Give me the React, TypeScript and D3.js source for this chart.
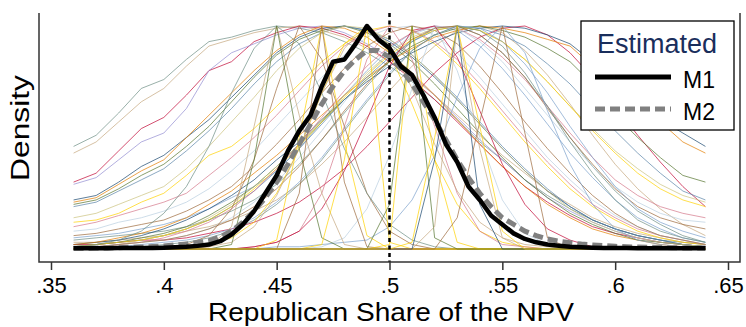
import { useEffect, useRef } from 'react'
import * as d3 from 'd3'

const W = 746
const H = 327

// vote-share grid of the state curves
const shareGrid = [
  0.36, 0.37, 0.38, 0.39, 0.40, 0.41, 0.42, 0.43, 0.44, 0.45,
  0.46, 0.47, 0.48, 0.49, 0.50, 0.51, 0.52, 0.53, 0.54, 0.55,
  0.56, 0.57, 0.58, 0.59, 0.60, 0.61, 0.62, 0.63, 0.64,
]

// finer grid of the estimated densities
const fineShare = [
  0.360, 0.365, 0.370, 0.375, 0.380, 0.385, 0.390, 0.395, 0.400, 0.405,
  0.410, 0.415, 0.420, 0.425, 0.430, 0.435, 0.440, 0.445, 0.450, 0.455,
  0.460, 0.465, 0.470, 0.475, 0.480, 0.485, 0.490, 0.495, 0.500, 0.505,
  0.510, 0.515, 0.520, 0.525, 0.530, 0.535, 0.540, 0.545, 0.550, 0.555,
  0.560, 0.565, 0.570, 0.575, 0.580, 0.585, 0.590, 0.595, 0.600, 0.605,
  0.610, 0.615, 0.620, 0.625, 0.630, 0.635, 0.640,
]

const m1Density = [
  0.3, 0.3, 0.3, 0.3, 0.4, 0.4, 0.5, 0.5, 0.6, 0.8,
  1.0, 1.4, 2.0, 3.5, 6.5, 11, 17, 25, 33, 44,
  53, 60, 73, 84, 85, 92, 100, 94, 90, 82,
  78, 69, 59, 47, 39, 28, 22, 15, 11, 7,
  4.5, 3, 2, 1.5, 1, 0.8, 0.6, 0.5, 0.4, 0.4,
  0.3, 0.3, 0.3, 0.3, 0.3, 0.3, 0.3,
]

const m2Density = [
  0.3, 0.35, 0.4, 0.5, 0.6, 0.75, 0.9, 1.1, 1.4, 1.8,
  2.3, 2.9, 3.7, 5.5, 8, 12, 17, 23, 30, 38,
  47, 56, 65, 73, 80, 85, 89, 89, 86, 81,
  74, 66, 58, 49, 40, 32, 25, 19, 14, 11,
  8, 6, 4.5, 3.5, 2.8, 2.2, 1.8, 1.5, 1.2, 1.0,
  0.9, 0.8, 0.7, 0.6, 0.5, 0.45, 0.4,
]

// state curves, scaled to their own peak (= 100)
const leftFanCurves = [
  [46, 51, 61, 72, 76, 85, 93, 95, 98, 100, 99, 97, 93, 88, 82, 75, 67, 58, 48, 40, 31, 24, 18, 13, 9, 6, 4, 3, 2],
  [43, 48, 57, 66, 72, 82, 91, 94, 97, 99, 100, 98, 95, 90, 84, 77, 69, 60, 51, 42, 34, 26, 20, 14, 10, 7, 5, 3, 2],
  [30, 34, 44, 54, 59, 69, 80, 84, 93, 97, 100, 99, 96, 91, 84, 76, 67, 57, 47, 37, 28, 21, 15, 10, 7, 5, 3, 2, 1],
  [29, 32, 40, 48, 52, 63, 80, 88, 92, 96, 99, 100, 97, 92, 86, 78, 69, 59, 49, 40, 31, 23, 17, 12, 8, 5, 3, 2, 1],
  [22, 24, 30, 37, 42, 50, 58, 68, 78, 88, 95, 99, 100, 98, 93, 86, 77, 67, 56, 45, 35, 26, 19, 13, 9, 6, 4, 2, 1],
  [21, 23, 29, 35, 40, 50, 60, 70, 80, 89, 96, 100, 99, 95, 88, 79, 69, 58, 47, 37, 28, 20, 14, 9, 6, 4, 2, 1, 1],
  [20, 22, 27, 33, 38, 46, 55, 66, 77, 87, 94, 98, 100, 97, 92, 84, 74, 63, 52, 41, 31, 23, 16, 11, 7, 4, 3, 2, 1],
  [19, 21, 26, 31, 36, 44, 53, 63, 74, 84, 92, 97, 100, 98, 94, 87, 78, 68, 57, 46, 36, 27, 19, 13, 9, 6, 4, 2, 1],
  [14, 16, 20, 24, 28, 36, 46, 57, 68, 80, 90, 97, 100, 99, 94, 87, 78, 67, 56, 45, 35, 26, 18, 12, 8, 5, 3, 2, 1],
  [12, 13, 16, 21, 25, 33, 42, 46, 54, 64, 74, 84, 92, 98, 100, 98, 92, 83, 72, 60, 48, 37, 27, 19, 13, 8, 5, 3, 2],
  [10, 12, 15, 18, 21, 25, 33, 41, 50, 60, 71, 82, 91, 97, 100, 98, 93, 85, 74, 62, 50, 39, 29, 20, 14, 9, 6, 4, 2],
  [8, 9, 12, 14, 17, 21, 27, 35, 44, 55, 66, 77, 87, 95, 99, 100, 96, 88, 77, 65, 53, 41, 31, 22, 15, 10, 6, 4, 2],
  [6, 7, 9, 11, 13, 17, 22, 28, 37, 47, 58, 70, 81, 91, 97, 100, 98, 92, 82, 70, 57, 45, 34, 24, 16, 10, 6, 4, 2],
  [5, 6, 7, 9, 11, 14, 18, 23, 28, 35, 45, 57, 69, 80, 90, 97, 100, 98, 91, 81, 69, 56, 43, 32, 22, 14, 9, 5, 3],
  [4, 5, 6, 7, 8, 10, 13, 17, 22, 29, 38, 49, 61, 73, 84, 93, 99, 100, 96, 88, 77, 64, 50, 37, 26, 17, 11, 6, 3],
  [3, 3, 4, 5, 6, 8, 10, 13, 17, 22, 29, 38, 48, 59, 71, 82, 91, 98, 100, 97, 89, 78, 65, 51, 38, 27, 18, 11, 6],
  [2, 2, 3, 4, 4, 5, 7, 9, 12, 16, 21, 28, 36, 46, 57, 68, 79, 88, 95, 99, 100, 96, 88, 77, 64, 51, 39, 28, 19],
]

const rightFanCurves = [
  [2, 3, 4, 6, 9, 13, 18, 24, 31, 40, 48, 58, 67, 75, 82, 88, 93, 97, 99, 100, 99, 96, 92, 84, 76, 68, 58, 52, 46],
  [2, 3, 5, 7, 10, 14, 20, 26, 34, 42, 51, 60, 69, 77, 84, 90, 95, 98, 100, 99, 97, 94, 91, 82, 72, 66, 57, 48, 43],
  [1, 2, 3, 5, 7, 10, 15, 21, 28, 37, 47, 57, 67, 76, 84, 91, 96, 99, 100, 98, 95, 90, 84, 74, 60, 50, 41, 33, 30],
  [1, 2, 3, 4, 6, 9, 13, 19, 26, 35, 45, 56, 67, 77, 86, 93, 98, 100, 99, 96, 91, 83, 74, 63, 53, 43, 34, 26, 22],
  [1, 1, 2, 4, 6, 9, 14, 20, 28, 37, 47, 58, 69, 79, 88, 95, 99, 100, 98, 93, 85, 75, 64, 54, 44, 36, 29, 24, 21],
  [1, 2, 3, 4, 6, 9, 13, 19, 27, 36, 46, 57, 68, 78, 87, 94, 98, 100, 98, 93, 85, 75, 64, 53, 43, 34, 27, 22, 19],
  [1, 1, 2, 3, 5, 8, 12, 18, 26, 36, 47, 59, 71, 82, 91, 97, 100, 99, 94, 86, 76, 64, 52, 41, 31, 24, 19, 16, 14],
  [1, 1, 2, 3, 4, 6, 9, 14, 21, 30, 41, 53, 66, 78, 88, 96, 100, 99, 93, 84, 72, 60, 48, 37, 28, 21, 16, 13, 12],
  [1, 1, 2, 3, 4, 6, 9, 13, 19, 27, 37, 49, 62, 74, 85, 94, 99, 100, 96, 88, 77, 63, 50, 38, 27, 19, 14, 11, 9],
  [0, 1, 1, 2, 3, 4, 6, 9, 14, 21, 30, 41, 54, 67, 79, 89, 96, 100, 99, 93, 83, 70, 55, 41, 28, 18, 12, 8, 5],
  [0, 0, 1, 1, 2, 3, 5, 8, 13, 20, 29, 40, 53, 66, 78, 89, 96, 100, 98, 91, 79, 64, 48, 34, 22, 13, 8, 5, 3],
]

const midCurves = [
  [0, 0, 0, 0, 0, 1, 2, 5, 12, 25, 45, 70, 92, 100, 88, 65, 40, 20, 8, 3, 1, 0, 0, 0, 0, 0, 0, 0, 0],
  [0, 0, 0, 0, 0, 0, 0, 0, 1, 3, 8, 25, 55, 85, 100, 85, 55, 25, 8, 2, 1, 0, 0, 0, 0, 0, 0, 0, 0],
  [0, 0, 0, 0, 0, 0, 0, 0, 0, 0, 0, 1, 5, 18, 42, 72, 100, 80, 50, 22, 7, 2, 0, 0, 0, 0, 0, 0, 0],
  [0, 0, 0, 0, 0, 2, 6, 18, 40, 72, 100, 85, 55, 25, 8, 2, 0, 0, 0, 0, 0, 0, 0, 0, 0, 0, 0, 0, 0],
  [0, 0, 0, 0, 0, 0, 0, 0, 0, 1, 1, 2, 3, 4, 10, 22, 42, 68, 90, 100, 88, 62, 38, 20, 9, 4, 2, 1, 0],
  [1, 2, 4, 8, 16, 28, 46, 70, 90, 100, 92, 70, 45, 25, 11, 4, 1, 0, 0, 0, 0, 0, 0, 0, 0, 0, 0, 0, 0],
  [0, 0, 0, 0, 0, 0, 1, 3, 10, 24, 45, 70, 90, 100, 92, 72, 47, 26, 12, 5, 2, 1, 0, 0, 0, 0, 0, 0, 0],
  [0, 0, 0, 0, 0, 0, 0, 0, 1, 3, 8, 18, 35, 58, 82, 98, 100, 86, 62, 38, 20, 9, 4, 1, 0, 0, 0, 0, 0],
]

const spikeCurves = [
  [0, 0, 0, 0, 0, 0, 1, 10, 55, 100, 60, 25, 2, 0, 0, 0, 0, 0, 0, 0, 0, 0, 0, 0, 0, 0, 0, 0, 0],
  [0, 0, 0, 0, 0, 0, 0, 2, 40, 100, 45, 5, 0, 0, 0, 0, 0, 0, 0, 0, 0, 0, 0, 0, 0, 0, 0, 0, 0],
  [0, 0, 0, 0, 0, 0, 0, 0, 0, 4, 50, 100, 48, 6, 0, 0, 0, 0, 0, 0, 0, 0, 0, 0, 0, 0, 0, 0, 0],
  [0, 0, 0, 0, 0, 0, 0, 0, 0, 0, 25, 100, 30, 1, 0, 0, 0, 0, 0, 0, 0, 0, 0, 0, 0, 0, 0, 0, 0],
  [0, 0, 0, 0, 0, 0, 0, 0, 0, 0, 0, 2, 40, 100, 3, 0, 0, 0, 0, 0, 0, 0, 0, 0, 0, 0, 0, 0, 0],
  [0, 0, 0, 0, 0, 0, 0, 0, 0, 0, 0, 0, 0, 0, 2, 100, 40, 3, 0, 0, 0, 0, 0, 0, 0, 0, 0, 0, 0],
  [0, 0, 0, 0, 0, 0, 0, 0, 0, 0, 0, 0, 0, 0, 20, 100, 5, 0, 0, 0, 0, 0, 0, 0, 0, 0, 0, 0, 0],
  [0, 0, 0, 0, 0, 0, 0, 0, 0, 0, 0, 0, 0, 0, 0, 0, 10, 100, 45, 5, 0, 0, 0, 0, 0, 0, 0, 0, 0],
  [0, 0, 0, 0, 0, 0, 0, 0, 0, 0, 0, 0, 0, 0, 0, 0, 40, 100, 20, 0, 0, 0, 0, 0, 0, 0, 0, 0, 0],
  [0, 0, 0, 0, 0, 0, 0, 0, 0, 0, 0, 0, 0, 0, 0, 0, 0, 14, 57, 100, 52, 5, 0, 0, 0, 0, 0, 0, 0],
  [0, 0, 0, 0, 0, 0, 0, 0, 0, 0, 0, 0, 0, 0, 0, 3, 50, 100, 55, 8, 0, 0, 0, 0, 0, 0, 0, 0, 0],
]

const shareTicks = [0.35, 0.4, 0.45, 0.5, 0.55, 0.6, 0.65]
const cutoffShare = 0.5
const legendLabels = ['M1', 'M2']

const PALETTE = [
  '#6e8e84', '#c4a77e', '#c10534', '#938dd2', '#1a476f', '#e37e00', '#55752f',
  '#5b84a8', '#cac27e', '#ffd200', '#d4788a', '#b9cfe0', '#9c6a3c', '#7ca1cc',
]
const SPIKE_COLORS = ['#c4a77e', '#55752f', '#ffd200', '#9c6a3c', '#ffd200', '#ffd200', '#55752f', '#c4a77e', '#1a476f', '#9c6a3c', '#ffd200']
const FONT = '"Liberation Sans", Arial, Helvetica, sans-serif'

export default function App() {
  const svgRef = useRef<SVGSVGElement>(null)

  useEffect(() => {
    if (!svgRef.current) return
    const svg = d3.select(svgRef.current)
    svg.selectAll('*').remove()

    const frame = { left: 39, right: 740, top: 13, bottom: 262 }
    const x = d3.scaleLinear().domain([0.35, 0.65]).range([51, 728])
    const y = d3.scaleLinear().domain([0, 100]).range([249, 26])

    svg.append('rect').attr('width', W).attr('height', H).attr('fill', '#fff')

    const coarse = d3.line<number>().x((_, i) => x(shareGrid[i])).y(d => y(d))
    const fine = d3.line<number>().x((_, i) => x(fineShare[i])).y(d => y(d))

    // state curves
    const curves = svg.append('g').attr('fill', 'none').attr('stroke-width', 1).attr('stroke-opacity', 0.7)
    leftFanCurves.forEach((c, i) => {
      curves.append('path').attr('d', coarse(c)).attr('stroke', PALETTE[i % PALETTE.length])
    })
    rightFanCurves.forEach((c, i) => {
      curves.append('path').attr('d', coarse(c)).attr('stroke', PALETTE[(i + 4) % PALETTE.length])
    })
    midCurves.forEach((c, i) => {
      curves.append('path').attr('d', coarse(c)).attr('stroke', PALETTE[(i + 9) % PALETTE.length])
    })
    spikeCurves.forEach((c, i) => {
      curves.append('path').attr('d', coarse(c)).attr('stroke', SPIKE_COLORS[i])
    })

    // estimated densities
    svg.append('path').attr('d', fine(m2Density))
      .attr('fill', 'none').attr('stroke', '#808080').attr('stroke-width', 5)
      .attr('stroke-dasharray', '10,5')
    svg.append('path').attr('d', fine(m1Density))
      .attr('fill', 'none').attr('stroke', '#000').attr('stroke-width', 4.5)
      .attr('stroke-linejoin', 'round')

    // 50% line
    svg.append('line')
      .attr('x1', x(cutoffShare)).attr('x2', x(cutoffShare))
      .attr('y1', frame.top).attr('y2', frame.bottom)
      .attr('stroke', '#000').attr('stroke-width', 2.5).attr('stroke-dasharray', '4,3.5')

    // frame
    svg.append('path')
      .attr('d', `M${frame.left},${frame.top}V${frame.bottom}H${frame.right}V${frame.top}`)
      .attr('fill', 'none').attr('stroke', '#333').attr('stroke-width', 1.5)

    // x axis
    const fmt = d3.format('.2~f')
    svg.append('g').attr('transform', `translate(0,${frame.bottom})`)
      .call(d3.axisBottom(x).tickValues(shareTicks).tickSize(8).tickPadding(7)
        .tickFormat(d => fmt(d as number).replace(/^0/, '')))
      .call(sel => {
        sel.select('.domain').remove()
        sel.selectAll('.tick line').attr('stroke', '#333').attr('stroke-width', 1.5)
        sel.selectAll('text').attr('font-size', 22).attr('font-family', FONT).attr('fill', '#000')
      })

    svg.append('text')
      .attr('x', 391).attr('y', 321).attr('text-anchor', 'middle')
      .attr('font-size', 25).attr('font-family', FONT).attr('fill', '#000')
      .attr('textLength', 366).attr('lengthAdjust', 'spacingAndGlyphs')
      .text('Republican Share of the NPV')

    svg.append('text')
      .attr('transform', 'translate(29,128) rotate(-90)').attr('text-anchor', 'middle')
      .attr('font-size', 26).attr('font-family', FONT).attr('fill', '#000')
      .attr('textLength', 106).attr('lengthAdjust', 'spacingAndGlyphs')
      .text('Density')

    // legend
    const lg = svg.append('g').attr('transform', 'translate(581,21)')
    lg.append('rect').attr('width', 153).attr('height', 109)
      .attr('fill', '#fff').attr('stroke', '#000').attr('stroke-width', 1.3)
    lg.append('text').attr('x', 76).attr('y', 32).attr('text-anchor', 'middle')
      .attr('font-size', 27).attr('font-family', FONT).attr('fill', '#1a2e5c')
      .text('Estimated')
    legendLabels.forEach((lab, i) => {
      const ly = 56 + i * 32
      lg.append('line').attr('x1', 14).attr('x2', 90).attr('y1', ly).attr('y2', ly)
        .attr('stroke', i === 0 ? '#000' : '#808080').attr('stroke-width', 5)
        .attr('stroke-dasharray', i === 0 ? null : '10,5')
      lg.append('text').attr('x', 102).attr('y', ly + 11)
        .attr('font-size', 23).attr('font-family', FONT).attr('fill', '#000')
        .text(lab)
    })
  }, [])

  return (
    <svg ref={svgRef} width={W} height={H}
      style={{ position: 'absolute', left: 0, top: 0, display: 'block' }} />
  )
}
